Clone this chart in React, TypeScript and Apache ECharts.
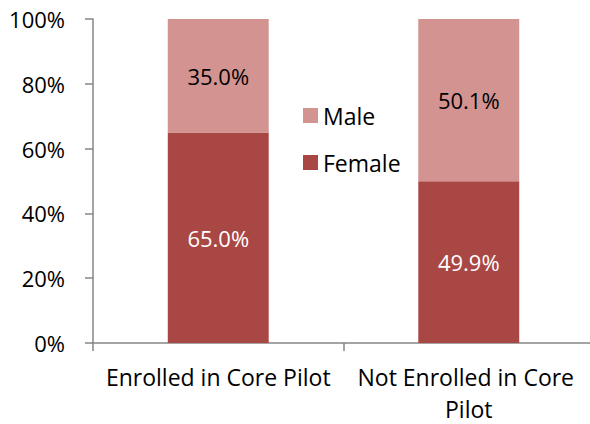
import React, { useEffect, useRef } from "react";
import * as echarts from "echarts";

const categories = ["Enrolled in Core Pilot", "Not Enrolled in Core Pilot"];
const femaleValues = [65.0, 49.9];
const maleValues = [35.0, 50.1];
const yTicks = [0, 20, 40, 60, 80, 100];

const FONT = "'Open Sans', Lato, sans-serif";
const FS = 23;

export default function App() {
  const ref = useRef<HTMLDivElement>(null);
  useEffect(() => {
    if (!ref.current) return;
    const chart = echarts.init(ref.current, undefined, { renderer: "svg" });
    const axisColor = "#868686";
    chart.setOption({
      animation: false,
      backgroundColor: "#ffffff",
      textStyle: { fontFamily: FONT },
      grid: {
        left: 93,
        width: 501,
        top: 19,
        bottom: 81,
        containLabel: false,
        outerBoundsMode: "none",
      },
      legend: {
        orient: "vertical",
        left: 298,
        top: 99,
        itemWidth: 15,
        itemHeight: 15,
        itemGap: 24,
        icon: "rect",
        data: ["Male", "Female"],
        textStyle: { fontSize: FS, color: "#000", fontFamily: FONT },
      },
      xAxis: {
        type: "category",
        data: categories,
        axisLine: { lineStyle: { color: axisColor, width: 1.5 } },
        axisTick: { show: true, length: 8, lineStyle: { color: axisColor, width: 1.5 } },
        axisLabel: {
          fontSize: FS,
          color: "#000",
          fontFamily: FONT,
          margin: 18,
          lineHeight: 32,
          width: 248,
          overflow: "break",
          interval: 0,
        },
      },
      yAxis: {
        type: "value",
        min: 0,
        max: 100,
        interval: 20,
        splitLine: { show: false },
        axisLine: { show: true, lineStyle: { color: axisColor, width: 1.5 } },
        axisTick: { show: true, length: 8, lineStyle: { color: axisColor, width: 1.5 } },
        axisLabel: {
          fontSize: 22,
          color: "#000",
          fontFamily: FONT,
          margin: 28,
          formatter: (v: number) => (yTicks.includes(v) ? v + "%" : ""),
        },
      },
      series: [
        {
          name: "Female",
          type: "bar",
          stack: "total",
          data: femaleValues,
          barWidth: "40.3%",
          itemStyle: { color: "#A94745" },
          label: {
            show: true,
            position: "inside",
            color: "#ffffff",
            fontSize: 22,
            fontFamily: FONT,
            formatter: (p: any) => p.value.toFixed(1) + "%",
          },
        },
        {
          name: "Male",
          type: "bar",
          stack: "total",
          data: maleValues,
          barWidth: "40.3%",
          itemStyle: { color: "#D39391" },
          label: {
            show: true,
            position: "inside",
            color: "#000000",
            fontSize: 22,
            fontFamily: FONT,
            formatter: (p: any) => p.value.toFixed(1) + "%",
          },
        },
      ],
    });
    return () => chart.dispose();
  }, []);
  return (
    <div
      ref={ref}
      style={{ position: "fixed", left: 0, top: 0, width: 590, height: 424, background: "#fff" }}
    />
  );
}
